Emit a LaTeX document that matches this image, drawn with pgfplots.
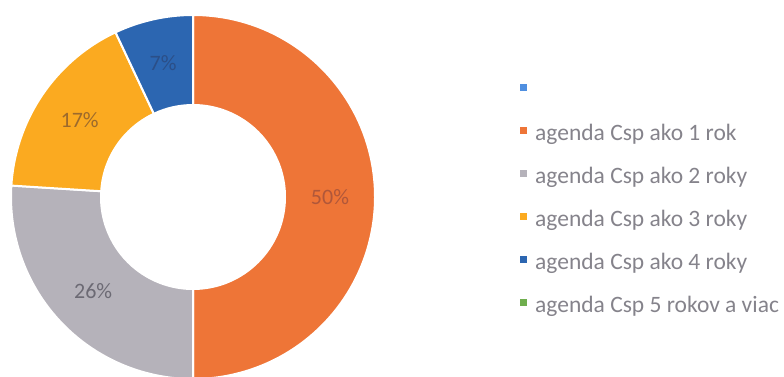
\documentclass[border=0pt]{standalone}
\usepackage{fontspec}
\setmainfont{Carlito}
\usepackage{pgfplots}
\usepackage{pgfplotstable}
\pgfplotsset{compat=1.18}
\definecolor{cs0}{HTML}{EE7537}
\definecolor{cs1}{HTML}{B5B2BA}
\definecolor{cs2}{HTML}{FBAA20}
\definecolor{cs3}{HTML}{2C66B1}
\definecolor{cl0}{HTML}{B0573A}
\definecolor{cl1}{HTML}{6C6A74}
\definecolor{cl2}{HTML}{9C6A2C}
\definecolor{cl3}{HTML}{2B4F88}
\definecolor{cLBlue}{HTML}{4F8FE0}
\definecolor{cGreen}{HTML}{6FAE4E}
\definecolor{legtext}{HTML}{85838B}

\pgfplotstableread{
slice value
1 50
2 26
3 17
4 7
}\donut

\begin{document}
\begin{tikzpicture}
\begin{axis}[
  at={(0,0)}, anchor=south west,
  width=784pt, height=376pt, scale only axis,
  xmin=0, xmax=784, ymin=0, ymax=376,
  hide axis, clip=true,
  legend style={at={(axis cs:520,294)}, anchor=north west, draw=none, fill=none, inner sep=0pt,
    font=\fontsize{23.5}{27}\selectfont, text=legtext,
    nodes={inner sep=0pt, text height=15pt, text depth=5pt},
    row sep=23pt, /tikz/every odd column/.append style={column sep=8pt}},
  legend cell align=left,
  legend image code/.code={\fill[#1, draw=none] (0pt,1.5pt) rectangle (7pt,8.5pt);},
]
\def\cx{193}
\def\cy{179}
\def\Ro{182}
\def\Ri{92}
\def\startang{90}
\pgfplotstablegetrowsof{\donut}
\pgfmathtruncatemacro{\lastrow}{\pgfplotsretval-1}
\pgfplotsforeachungrouped \i in {0,...,\lastrow}{%
  \pgfplotstablegetelem{\i}{value}\of{\donut}%
  \let\val\pgfplotsretval
  \pgfmathsetmacro{\endang}{\startang-3.6*\val}%
  \pgfmathsetmacro{\midang}{(\startang+\endang)/2}%
  \pgfmathsetmacro{\xa}{\cx+\Ro*cos(\startang)}%
  \pgfmathsetmacro{\ya}{\cy+\Ro*sin(\startang)}%
  \pgfmathsetmacro{\xb}{\cx+\Ri*cos(\endang)}%
  \pgfmathsetmacro{\yb}{\cy+\Ri*sin(\endang)}%
  \pgfmathsetmacro{\xm}{\cx+137*cos(\midang)}%
  \pgfmathsetmacro{\ym}{\cy+137*sin(\midang)}%
  \edef\temp{%
    \noexpand\fill[cs\i, draw=white, line width=2pt] (axis cs:\xa,\ya) arc[start angle=\startang, end angle=\endang, radius=\Ro pt] -- (axis cs:\xb,\yb) arc[start angle=\endang, end angle=\startang, radius=\Ri pt] -- cycle;
    \noexpand\node[text=cl\i, font=\noexpand\fontsize{22}{26}\noexpand\selectfont] at (axis cs:\xm,\ym) {\val\noexpand\%};
  }\temp
  \global\let\startang\endang
}
\addlegendimage{fill=cLBlue}\addlegendentry{}
\addlegendimage{fill=cs0}\addlegendentry{agenda Csp ako 1 rok}
\addlegendimage{fill=cs1}\addlegendentry{agenda Csp ako 2 roky}
\addlegendimage{fill=cs2}\addlegendentry{agenda Csp ako 3 roky}
\addlegendimage{fill=cs3}\addlegendentry{agenda Csp ako 4 roky}
\addlegendimage{fill=cGreen}\addlegendentry{agenda Csp 5 rokov a viac}
\end{axis}
\pgfresetboundingbox
\useasboundingbox (0,0) rectangle (784pt,376pt);
\end{tikzpicture}
\end{document}
